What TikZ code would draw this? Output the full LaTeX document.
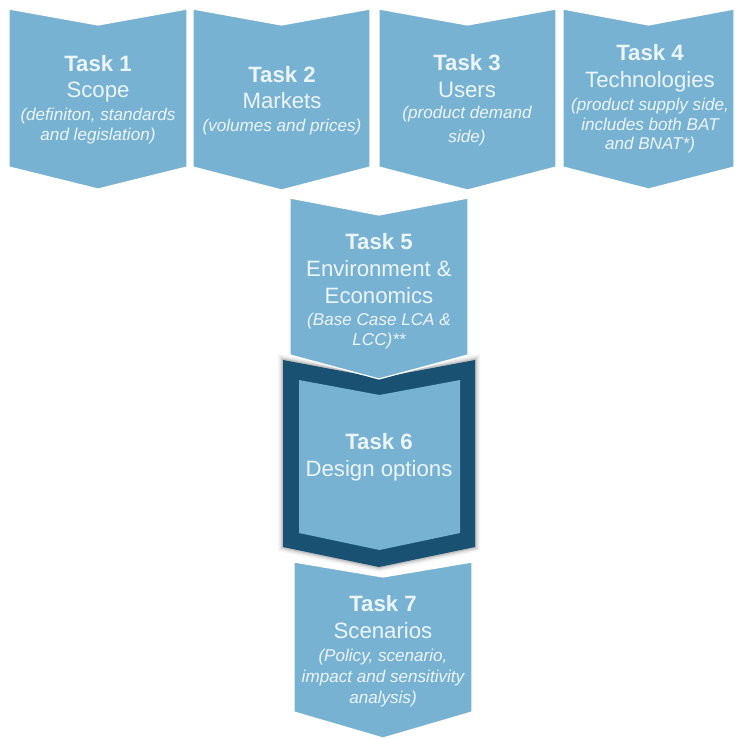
\documentclass[tikz,border=0pt]{standalone}
\usepackage{fontspec}
\setmainfont{Liberation Sans}
\definecolor{chevfill}{RGB}{120,178,211}
\definecolor{framedark}{RGB}{24,81,113}
\definecolor{labeltext}{RGB}{236,245,250}
% chevron: left x, right x, top corners y, notch y, bottom corners y, tip y
\newcommand\chevronpath[6]{(#1,#3) -- ({(#1+#2)/2},#4) -- (#2,#3) -- (#2,#5) -- ({(#1+#2)/2},#6) -- (#1,#5) -- cycle}
\tikzset{
  chev/.style={fill=chevfill, draw=white, line width=1.2pt, line join=miter},
  titleline/.style={text=labeltext, anchor=base, inner sep=0pt, font=\fontsize{22.2}{26}\selectfont\bfseries},
  subline/.style={text=labeltext, anchor=base, inner sep=0pt, font=\fontsize{22.2}{26}\selectfont},
  noteline/.style={text=labeltext, anchor=base, inner sep=0pt, font=\fontsize{17.1}{20}\selectfont\itshape},
}
\begin{document}
\begin{tikzpicture}[x=1pt,y=-1pt]
\useasboundingbox (0,0) rectangle (734,739);

% top row
\path[chev] \chevronpath{9}{187}{9}{25}{167}{189};
\path[chev] \chevronpath{193}{370}{9}{25}{167}{190};
\path[chev] \chevronpath{379}{556}{9}{25}{167}{190};
\path[chev] \chevronpath{563}{734}{9}{25}{167}{189};

% task 7 (under the highlighted frame)
\path[chev] \chevronpath{294}{472}{562}{577}{712}{738};

% soft halo of the highlighted frame
\foreach \w/\o in {10/0.04,7/0.06,4.5/0.08,2.5/0.10}
  \draw[black, opacity=\o, line width=\w pt, line join=miter] \chevronpath{283}{475}{360}{378}{547}{567};
% highlighted frame of task 6
\fill[framedark] \chevronpath{283}{475}{360}{378}{547}{567};
\fill[chevfill] \chevronpath{299}{460}{380}{395}{533}{550};

% task 5 lies over the top of the frame
\path[chev] \chevronpath{290}{468}{198}{215}{355}{379};

% labels
\node[titleline] (t1a) at (98,71) {Task 1};
\node[subline]   (t1b) at (98,97) {Scope};
\node[noteline]  (t1c) at (98,120) {(definiton, standards};
\node[noteline]  (t1d) at (98,140) {and legislation)};

\node[titleline] (t2a) at (282,82) {Task 2};
\node[subline]   (t2b) at (282,108) {Markets};
\node[noteline]  (t2c) at (282,131) {(volumes and prices)};

\node[titleline] (t3a) at (467,70) {Task 3};
\node[subline]   (t3b) at (467,97) {Users};
\node[noteline]  (t3c) at (467,118) {(product demand};
\node[noteline]  (t3d) at (467,142) {side)};

\node[titleline] (t4a) at (650,60) {Task 4};
\node[subline]   (t4b) at (650,87) {Technologies};
\node[noteline]  (t4c) at (650,110) {(product supply side,};
\node[noteline]  (t4d) at (650,130) {includes both BAT};
\node[noteline]  (t4e) at (650,149) {and BNAT*)};

\node[titleline] (t5a) at (379,249) {Task 5};
\node[subline]   (t5b) at (379,276) {Environment \&};
\node[subline]   (t5c) at (379,303) {Economics};
\node[noteline]  (t5d) at (379,325) {(Base Case LCA \&};
\node[noteline]  (t5e) at (379,345) {LCC)**};

\node[titleline] (t6a) at (379,449) {Task 6};
\node[subline]   (t6b) at (379,476) {Design options};

\node[titleline] (t7a) at (383,611) {Task 7};
\node[subline]   (t7b) at (383,638) {Scenarios};
\node[noteline]  (t7c) at (383,661) {(Policy, scenario,};
\node[noteline]  (t7d) at (383,682) {impact and sensitivity};
\node[noteline]  (t7e) at (383,703) {analysis)};
\end{tikzpicture}
\end{document}
